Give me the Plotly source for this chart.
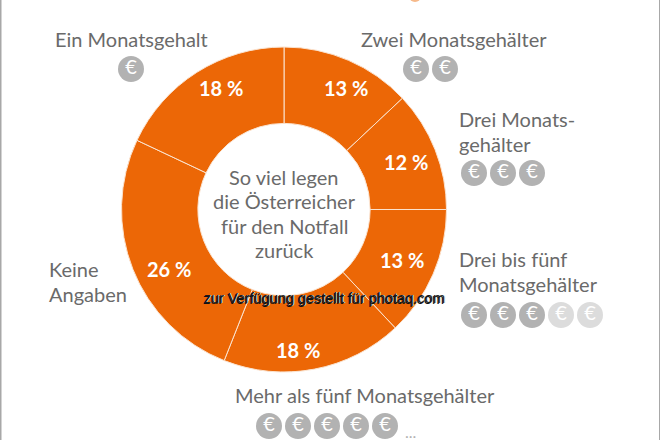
import plotly.graph_objects as go

# shares clockwise from 12 o'clock
categories = ["Zwei Monatsgehälter", "Drei Monatsgehälter", "Drei bis fünf Monatsgehälter",
              "Mehr als fünf Monatsgehälter", "Keine Angaben", "Ein Monatsgehalt"]
shares = [13, 12, 13, 18, 26, 18]
coins_full = [2, 3, 3, 5, 0, 1]
coins_faint = [0, 0, 2, 0, 0, 0]
centre_title = ["So viel legen", "die Österreicher", "für den Notfall", "zurück"]
watermark = "zur Verfügung gestellt für photaq.com"

W, H = 660, 440
ORANGE = "#ec6706"
GREY_TEXT = "#6a6a6a"
COIN = "#b2b2b2"
COIN_FAINT = "#dcdcdc"
FONT = "Lato"
LINE_STEP = 25

# (lines, x of the left edge, y of the first line), in pixels from the top left
label_layout = [
    (["Zwei Monatsgehälter"], 359, 39),
    (["Drei Monats-", "gehälter"], 457, 119),
    (["Drei bis fünf", "Monatsgehälter"], 457, 259),
    (["Mehr als fünf Monatsgehälter"], 233, 395),
    (["Keine", "Angaben"], 47, 269),
    (["Ein Monatsgehalt"], 53, 39),
]
# the percent labels sit by hand in the ring, not at the middle of each slice
percent_layout = [(346, 88), (406, 162), (402, 260), (298, 350), (169, 269), (221, 88)]
# first coin centre per category, with the step to the next one
coin_start = [(416, 69), (474, 173), (474, 315), (269, 426), None, (131, 69)]
COIN_STEP = 29

fig = go.Figure()

fig.add_trace(go.Pie(
    labels=categories,
    values=shares,
    textinfo="none",
    hole=0.53,
    sort=False,
    direction="clockwise",
    rotation=0,
    marker=dict(colors=[ORANGE] * len(shares), line=dict(color="#fbe3cf", width=1)),
    domain=dict(x=[121 / W, 447 / W], y=[1 - 372 / H, 1 - 47 / H]),
    showlegend=False,
))

# euro coins
coin_x, coin_y, coin_colors = [], [], []
for start, full, faint in zip(coin_start, coins_full, coins_faint):
    if start is None:
        continue
    for i in range(full + faint):
        coin_x.append(start[0] + i * COIN_STEP)
        coin_y.append(start[1])
        coin_colors.append(COIN if i < full else COIN_FAINT)

fig.add_trace(go.Scatter(
    x=coin_x,
    y=coin_y,
    mode="markers+text",
    marker=dict(size=26, color=coin_colors, line=dict(width=0)),
    text=["€"] * len(coin_x),
    textposition="middle center",
    textfont=dict(family=FONT, size=20, color="white"),
    showlegend=False,
    hoverinfo="skip",
    cliponaxis=False,
))

annotations = []
for lines, x, y in label_layout:
    for i, line in enumerate(lines):
        annotations.append(dict(x=x, y=y + i * LINE_STEP, text=line, xanchor="left", yanchor="middle",
                                showarrow=False, font=dict(family=FONT, size=20, color=GREY_TEXT)))

for share, (x, y) in zip(shares, percent_layout):
    annotations.append(dict(x=x, y=y, text=f"<b>{share} %</b>", xanchor="center", yanchor="middle",
                            showarrow=False, font=dict(family=FONT, size=20, color="white")))

for i, line in enumerate(centre_title):
    annotations.append(dict(x=284, y=177 + i * 24.3, text=line, xanchor="center", yanchor="middle",
                            showarrow=False, font=dict(family=FONT, size=20, color=GREY_TEXT)))
annotations.append(dict(x=410, y=431, text="...", xanchor="center", yanchor="middle",
                        showarrow=False, font=dict(family=FONT, size=16, color=COIN)))

annotations.append(dict(x=324, y=298, text=watermark, xanchor="center", yanchor="middle", showarrow=False,
                        font=dict(family="Liberation Sans", size=14.5, color="#1a1a1a",
                                  shadow="-1px 1px 0 #111111, 1px 0 0 #e8e8e8")))

fig.update_layout(
    width=W,
    height=H,
    margin=dict(l=0, r=0, t=0, b=0),
    paper_bgcolor="white",
    plot_bgcolor="rgba(0,0,0,0)",
    xaxis=dict(range=[0, W], visible=False, fixedrange=True),
    yaxis=dict(range=[H, 0], visible=False, fixedrange=True),
    annotations=annotations,
    shapes=[
        dict(type="rect", x0=0, x1=1.5, y0=0, y1=H, fillcolor="#a8a8a8", line_width=0),
        dict(type="rect", x0=659, x1=660, y0=0, y1=H, fillcolor="#a8a8a8", line_width=0),
        dict(type="circle", x0=409, x1=421, y0=-10, y1=2, fillcolor="#f6b98a", line_width=0),
    ],
)

# the page's default body margin would push the figure 8px in
fig.write_html(
    "out.html",
    config={"displayModeBar": False},
    post_script="document.body.style.margin = '0'; document.body.style.overflow = 'hidden';",
)
